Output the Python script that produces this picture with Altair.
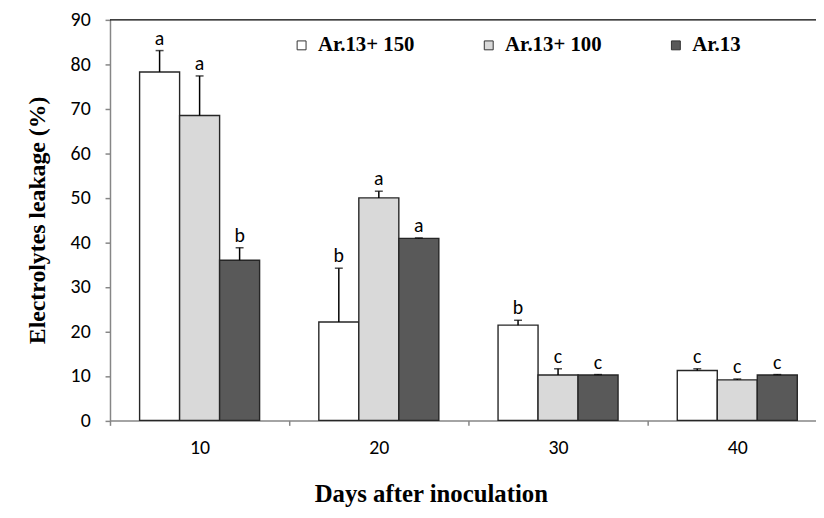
import altair as alt
import pandas as pd

days = ["10", "20", "30", "40"]
series = ["Ar.13+ 150", "Ar.13+ 100", "Ar.13"]
means_150 = [78.3, 22.1, 21.4, 11.2]
means_100 = [68.5, 50.0, 10.2, 9.1]
means_13 = [36.0, 40.9, 10.2, 10.2]
err_150 = [4.8, 12.1, 1.1, 0.4]
err_100 = [8.9, 1.5, 1.4, 0.2]
err_13 = [2.8, 0.1, 0.1, 0.1]
let_150 = ["a", "b", "b", "c"]
let_100 = ["a", "a", "c", "c"]
let_13 = ["b", "a", "c", "c"]
colors = ["#FFFFFF", "#D9D9D9", "#595959"]

rows = []
for s, m, e, l in zip(series, [means_150, means_100, means_13],
                      [err_150, err_100, err_13], [let_150, let_100, let_13]):
    for d, mv, ev, lv in zip(days, m, e, l):
        rows.append({"Day": d, "Series": s, "value": mv, "upper": mv + ev, "letter": lv})
df = pd.DataFrame(rows)

x = alt.X("Day:N", sort=days,
          scale=alt.Scale(paddingInner=0, paddingOuter=0),
          axis=alt.Axis(title="Days after inoculation", labelAngle=0,
                        domainColor="#868686", domainWidth=1.5,
                        tickColor="#868686", tickSize=5, tickWidth=1.5, tickBand="extent",
                        labelFont="Carlito, Open Sans", labelFontSize=20, labelColor="#000",
                        labelPadding=12,
                        titleFont="Liberation Serif", titleFontWeight="bold",
                        titleFontSize=25, titleColor="#000",
                        titleX=324, titleY=82, titleBaseline="alphabetic", titleAlign="center"))
xo = alt.XOffset("Series:N", sort=series,
                 scale=alt.Scale(paddingInner=0, paddingOuter=0.74))
yq = alt.Y("value:Q",
           scale=alt.Scale(domain=[0, 90], nice=False),
           axis=alt.Axis(title="Electrolytes leakage (%)", values=list(range(0, 91, 10)),
                         grid=False, domainColor="#868686", domainWidth=1.5,
                         tickColor="#868686", tickSize=5, tickWidth=1.5,
                         labelFont="Carlito, Open Sans", labelFontSize=20, labelColor="#000",
                         labelPadding=15,
                         titleFont="Liberation Serif", titleFontWeight="bold",
                         titleFontSize=24, titleColor="#000", titleAngle=270,
                         titleX=-66, titleY=202, titleBaseline="alphabetic", titleAlign="center"))

base = alt.Chart(df)

bars = base.mark_bar(stroke="#262626", strokeWidth=1.4).encode(
    x=x, xOffset=xo, y=yq,
    fill=alt.Fill("Series:N", sort=series,
                  scale=alt.Scale(domain=series, range=colors),
                  legend=alt.Legend(title=None, orient="none", legendX=183, legendY=15,
                                    direction="horizontal", symbolType="square",
                                    symbolSize=81, symbolStrokeColor="#333",
                                    symbolStrokeWidth=1, labelFont="Liberation Serif",
                                    labelFontWeight="bold", labelFontSize=21,
                                    labelColor="#000", labelOffset=6, columnPadding=64,
                                    padding=0))
)

err = base.mark_rule(color="#000", strokeWidth=1.5).encode(
    x=x, xOffset=xo, y="value:Q", y2="upper:Q")

caps = base.mark_tick(color="#000", thickness=1.5, size=8, orient="horizontal").encode(
    x=x, xOffset=xo, y="upper:Q")

labels = base.mark_text(font="Carlito, Open Sans", fontSize=20, color="#000",
                        baseline="alphabetic", dy=-6).encode(
    x=x, xOffset=xo, y="upper:Q", text="letter:N")

top = alt.Chart(pd.DataFrame({"v": [90]})).mark_rule(color="#000", strokeWidth=1.5).encode(
    y=alt.Y("v:Q"))

chart = alt.layer(bars, err, caps, labels, top).properties(
    width=724, height=404.5,
    padding={"left": 103, "top": 9.5, "right": -11, "bottom": 88},
    autosize=alt.AutoSizeParams(type="none"),
).configure_view(stroke=None)

chart.save("out.html", embed_options={"renderer": "svg", "actions": False})
